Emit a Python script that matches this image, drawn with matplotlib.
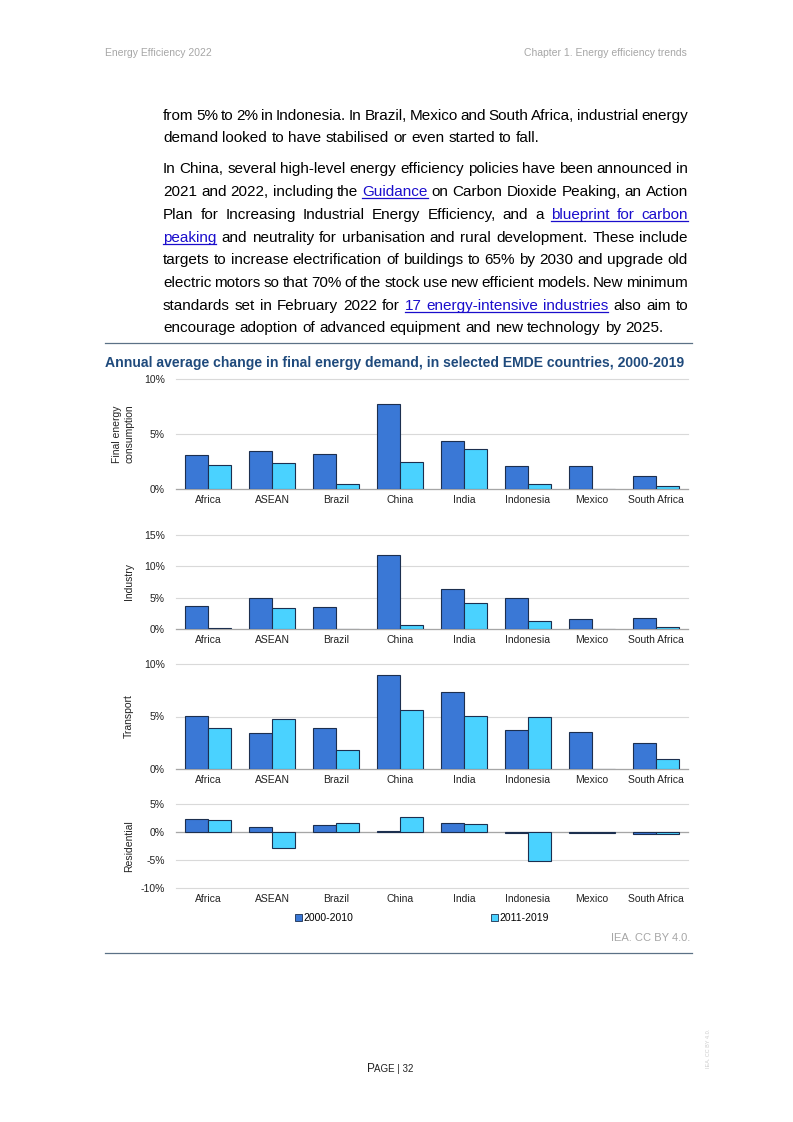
import matplotlib
matplotlib.use("Agg")
import matplotlib.pyplot as plt
from matplotlib.patches import Patch
from matplotlib.lines import Line2D
import numpy as np

plt.rcParams['font.family'] = ['Liberation Sans', 'DejaVu Sans']

## Chart data (annual average change, %)
countries = ["Africa", "ASEAN", "Brazil", "China", "India", "Indonesia", "Mexico", "South Africa"]
periods = ["2000-2010", "2011-2019"]

final_0010 = [3.1, 3.45, 3.2, 7.75, 4.4, 2.1, 2.1, 1.15]
final_1119 = [2.2, 2.4, 0.48, 2.48, 3.62, 0.48, 0.03, 0.27]
industry_0010 = [3.75, 4.97, 3.55, 11.85, 6.4, 4.97, 1.65, 1.8]
industry_1119 = [0.1, 3.4, 0.05, 0.63, 4.07, 1.32, 0.05, 0.26]
transport_0010 = [5.06, 3.47, 3.95, 8.98, 7.36, 3.73, 3.57, 2.52]
transport_1119 = [3.89, 4.75, 1.85, 5.64, 5.06, 4.97, 0.02, 0.96]
resid_0010 = [2.32, 0.95, 1.31, 0.1, 1.6, -0.15, -0.15, -0.3]
resid_1119 = [2.14, -2.92, 1.67, 2.68, 1.43, -5.18, -0.15, -0.3]

panels = [
    ("Final energy\nconsumption", final_0010, final_1119, (0, 10), [0, 5, 10]),
    ("Industry", industry_0010, industry_1119, (0, 15), [0, 5, 10, 15]),
    ("Transport", transport_0010, transport_1119, (0, 10), [0, 5, 10]),
    ("Residential", resid_0010, resid_1119, (-10, 5), [-10, -5, 0, 5]),
]
# pixel boxes (top, bottom) of each panel
panel_y = [(379, 489), (535, 629), (664, 769), (804, 888)]

## Page text
header_left = "Energy Efficiency 2022"
header_right = "Chapter 1. Energy efficiency trends"
title = "Annual average change in final energy demand, in selected EMDE countries, 2000-2019"
# segments: (text, is_link); second item = justified
paragraph_lines = [
    ([("from 5% to 2% in Indonesia. In Brazil, Mexico and South Africa, industrial energy", 0)], True),
    ([("demand looked to have stabilised or even started to fall.", 0)], False),
    None,
    ([("In China, several high-level energy efficiency policies have been announced in", 0)], True),
    ([("2021 and 2022, including the", 0), ("Guidance", 1), ("on Carbon Dioxide Peaking, an Action", 0)], True),
    ([("Plan for Increasing Industrial Energy Efficiency, and a", 0), ("blueprint for carbon", 1)], True),
    ([("peaking", 1), ("and neutrality for urbanisation and rural development. These include", 0)], True),
    ([("targets to increase electrification of buildings to 65% by 2030 and upgrade old", 0)], True),
    ([("electric motors so that 70% of the stock use new efficient models. New minimum", 0)], True),
    ([("standards set in February 2022 for", 0), ("17 energy-intensive industries", 1), ("also aim to", 0)], True),
    ([("encourage adoption of advanced equipment and new technology by 2025.", 0)], False),
]
line_baselines = [120, 142, None, 173, 196, 219, 242, 264, 287, 310, 332]

W, H = 793, 1122
fig = plt.figure(figsize=(W / 100, H / 100), dpi=100)
renderer = fig.canvas.get_renderer()

def fx(x): return x / W
def fy(y): return 1 - y / H

c_dark = '#3a78d6'
c_light = '#4ad2ff'
c_edge = '#1c2f4f'
c_link = '#1a0dcc'

fig.text(fx(105), fy(53), header_left, fontsize=7.5, color='#a6a6a6', va='center')
fig.text(fx(687), fy(53), header_right, fontsize=7.5, color='#a6a6a6', va='center', ha='right')

## justified paragraph
x_left, x_right = 163, 688
fs = 11
sp = fig.text(0, 0, "a a", fontsize=fs)
sp2 = fig.text(0, 0, "aa", fontsize=fs)
space_w = sp.get_window_extent(renderer).width - sp2.get_window_extent(renderer).width
sp.remove(); sp2.remove()

for line, base in zip(paragraph_lines, line_baselines):
    if line is None:
        continue
    segs, justify = line
    words = []
    for txt, link in segs:
        for w in txt.split(" "):
            words.append((w, link))
    arts = []
    for w, link in words:
        t = fig.text(fx(x_left), fy(base), w, fontsize=fs, va='baseline',
                     color=c_link if link else 'black')
        arts.append(t)
    widths = [a.get_window_extent(renderer).width for a in arts]
    if justify and len(words) > 1:
        gap = (x_right - x_left - sum(widths)) / (len(words) - 1)
    else:
        gap = space_w
    x = x_left
    positions = []
    for a, w in zip(arts, widths):
        a.set_x(fx(x))
        positions.append((x, x + w))
        x += w + gap
    # underline links
    i = 0
    while i < len(words):
        if words[i][1]:
            j = i
            while j + 1 < len(words) and words[j + 1][1]:
                j += 1
            fig.add_artist(Line2D([fx(positions[i][0]), fx(positions[j][1])],
                                  [fy(base + 2), fy(base + 2)], color=c_link, lw=0.9))
            i = j + 1
        else:
            i += 1

## frame lines and title
fig.add_artist(Line2D([fx(105), fx(692)], [fy(343), fy(343)], color='#5b7186', lw=0.9))
fig.add_artist(Line2D([fx(105), fx(692)], [fy(953), fy(953)], color='#5b7186', lw=0.9))
fig.text(fx(105), fy(363), title, fontsize=10.1, fontweight='bold', color='#1f4a7c', va='center')

## panels
x = np.arange(len(countries))
bw = 0.36
for (ylabel, a, b, ylim, ticks), (yt, yb) in zip(panels, panel_y):
    ax = fig.add_axes([fx(176), fy(yb), fx(688) - fx(176), (yb - yt) / H])
    ax.bar(x - bw / 2, a, bw, color=c_dark, edgecolor=c_edge, lw=0.8, zorder=3)
    ax.bar(x + bw / 2, b, bw, color=c_light, edgecolor=c_edge, lw=0.8, zorder=3)
    ax.set_xlim(-0.5, len(countries) - 0.5)
    ax.set_ylim(*ylim)
    ax.set_yticks(ticks)
    ax.set_yticklabels([f"{t}%" for t in ticks])
    ax.set_xticks(x)
    ax.set_xticklabels(countries)
    for t in ticks:
        ax.axhline(t, color='#d9d9d9', lw=0.8, zorder=0, clip_on=False)
    ax.axhline(0, color='#a6a6a6', lw=0.9, zorder=2, clip_on=False)
    for s in ax.spines.values():
        s.set_visible(False)
    ax.tick_params(length=0, labelsize=7.5, colors='#222222', pad=4)
    ax.tick_params(axis='y', pad=8)
    ax.set_ylabel(ylabel, fontsize=7.5, color='#222222')
    ax.yaxis.set_label_coords(-0.082, 0.5)

## legend
handles = [Patch(facecolor=c_dark, edgecolor=c_edge, lw=0.6),
           Patch(facecolor=c_light, edgecolor=c_edge, lw=0.6)]
fig.legend(handles, periods, loc='center', bbox_to_anchor=(fx(422), fy(918)), ncol=2,
           frameon=False, fontsize=7.5, handlelength=0.7, handleheight=0.7,
           handletextpad=0.15, columnspacing=13.2)

fig.text(fx(690), fy(938), "IEA. CC BY 4.0.", fontsize=8, color='#a6a6a6', ha='right', va='center')

## footer
fig.text(fx(367), fy(1069), "P", fontsize=8.5, color='#222222', va='center')
fig.text(fx(374.5), fy(1069), "AGE | 32", fontsize=7, color='#222222', va='center')
fig.text(fx(708), fy(1048), "IEA. CC BY 4.0.", fontsize=4, color='#cccccc', rotation=90,
         ha='center', va='center')

fig.savefig("out.png", dpi=100)
